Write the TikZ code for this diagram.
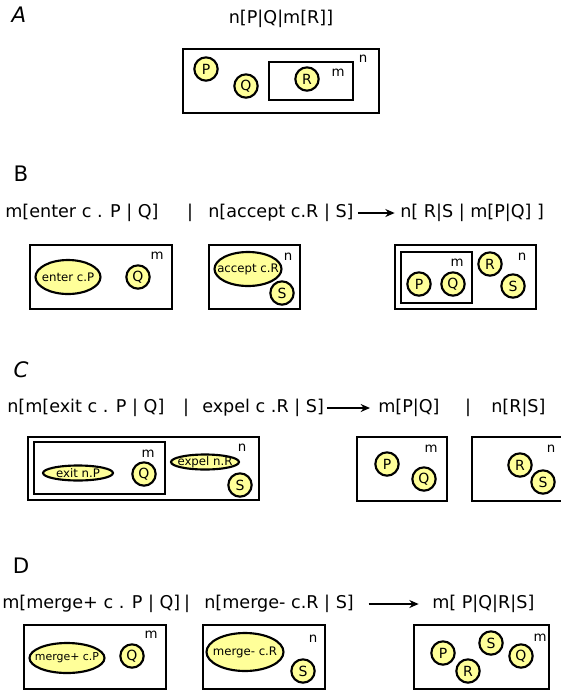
\documentclass[tikz,border=0pt]{standalone}
\usepackage{fontspec}
\setmainfont{DejaVu Sans}
\usetikzlibrary{shapes.geometric}
\usetikzlibrary{arrows.meta}
\definecolor{pale}{RGB}{255,255,153}
\tikzset{
  amb/.style={line width=1.8pt},
  agent/.style={circle, draw, fill=pale, line width=1.6pt, minimum size=17.5pt,
    inner sep=0pt, font=\fontsize{10.5}{11}\selectfont},
  act/.style 2 args={ellipse, draw, fill=pale, line width=1.6pt,
    minimum width=#1*0.75pt, minimum height=#2*0.75pt, inner sep=0pt},
  lbl/.style={font=\fontsize{8.8}{10}\selectfont, inner sep=0pt},
  tag/.style={font=\fontsize{10}{11}\selectfont, inner sep=0pt},
  term/.style={font=\fontsize{13.2}{15}\selectfont, inner sep=0pt},
  sect/.style={font=\fontsize{16}{18}\selectfont, inner sep=0pt},
  move/.style={line width=1.3pt, -{Stealth[length=7pt,width=6pt]}}
}

\begin{document}
\begin{tikzpicture}[x=0.75pt,y=-0.75pt]
    \clip (0,0) rectangle (561,694);
    % A
    \node[sect,font=\fontsize{16}{18}\selectfont\itshape] (lA) at (19,15) {A};
    \node[term] (tA) at (281,19) {n[P|Q|m[R]]};
    \draw[amb] (183,49) rectangle (379,113);
    \draw[amb] (269,62) rectangle (353,100);
    \node[tag] (nA) at (363,59) {n};
    \node[tag] (mA) at (338,73) {m};
    \node[agent] (pA) at (206,69) {P};
    \node[agent] (qA) at (246,86) {Q};
    \node[agent] (rA) at (307,79) {R};
    % B
    \node[sect] (lB) at (21,174) {B};
    \node[term,anchor=west] (fB1) at (5,213) {m[enter c . P | Q]};
    \node[term] (bB) at (190,213) {|};
    \node[term,anchor=west] (fB2) at (208,213) {n[accept c.R | S]};
    \node[term,anchor=west] (fB3) at (400,213) {n[ R|S | m[P|Q] ]};
    \draw[move,shorten <=3pt,shorten >=4pt] (fB2) -- (fB3);
    \draw[amb] (30,245) rectangle (172,309);
    \node[tag] (mB1) at (157,256) {m};
    \node[act={65}{34}] (eB1) at (68,277) {};
    \node[lbl] at (eB1) {enter c.P};
    \node[agent] (qB1) at (138,277) {Q};
    \draw[amb] (209,245) rectangle (300,309);
    \node[tag] (nB2) at (288,257) {n};
    \node[act={67}{34}] (eB2) at (248,269) {};
    \node[lbl] at (eB2) {accept c.R};
    \node[agent] (sB2) at (282,293) {S};
    \draw[amb] (395,245) rectangle (536,309);
    \draw[amb] (401,252) rectangle (472,303);
    \node[tag] (mB3) at (457,263) {m};
    \node[tag] (nB3) at (522,257) {n};
    \node[agent] (pB3) at (419,284) {P};
    \node[agent] (qB3) at (453,284) {Q};
    \node[agent] (rB3) at (490,264) {R};
    \node[agent] (sB3) at (513,286) {S};
    % C
    \node[sect,font=\fontsize{16}{18}\selectfont\itshape] (lC) at (21,370) {C};
    \node[term,anchor=west] (fC1) at (7,408) {n[m[exit c . P | Q]};
    \node[term] (bC1) at (186,408) {|};
    \node[term,anchor=west] (fC2) at (202,408) {expel c .R | S]};
    \node[term,anchor=west] (fC3) at (378,408) {m[P|Q]};
    \node[term] (bC2) at (468,408) {|};
    \node[term,anchor=west] (fC4) at (491,408) {n[R|S]};
    \draw[move,shorten <=2pt,shorten >=6pt] (fC2) -- (fC3);
    \draw[amb] (28,437) rectangle (259,500);
    \draw[amb] (34,442) rectangle (165,494);
    \node[tag] (mC1) at (148,454) {m};
    \node[act={70}{15}] (eC1) at (78,473) {};
    \node[lbl] at (eC1) {exit n.P};
    \node[agent] (qC1) at (144,474) {Q};
    \node[act={68}{15}] (eC2) at (205,462) {};
    \node[lbl] at (eC2) {expel n.R};
    \node[tag] (nC1) at (242,448) {n};
    \node[agent] (sC1) at (240,485) {S};
    \draw[amb] (357,437) rectangle (447,501);
    \node[tag] (mC2) at (431,449) {m};
    \node[agent] (pC2) at (387,464) {P};
    \node[agent] (qC2) at (424,479) {Q};
    \draw[amb] (472,437) rectangle (590,501);
    \node[tag] (nC2) at (551,449) {n};
    \node[agent] (rC2) at (520,465) {R};
    \node[agent] (sC2) at (543,482) {S};
    % D
    \node[sect] (lD) at (21,566) {D};
    \node[term,anchor=west] (fD1) at (2,604) {m[merge+ c . P | Q]};
    \node[term] (bD) at (187,604) {|};
    \node[term,anchor=west] (fD2) at (204,604) {n[merge- c.R | S]};
    \node[term,anchor=west] (fD3) at (432,604) {m[ P|Q|R|S]};
    \draw[move,shorten <=11pt,shorten >=10pt] (fD2) -- (fD3);
    \draw[amb] (24,625) rectangle (166,689);
    \node[tag] (mD1) at (151,635) {m};
    \node[act={75}{30}] (eD1) at (67,658) {};
    \node[lbl,font=\fontsize{8.2}{9}\selectfont] at (eD1) {merge+ c.P};
    \node[agent] (qD1) at (132,656) {Q};
    \draw[amb] (203,625) rectangle (325,689);
    \node[tag] (nD2) at (313,639) {n};
    \node[act={77}{38}] (eD2) at (245,652) {};
    \node[lbl] at (eD2) {merge- c.R};
    \node[agent] (sD2) at (303,671) {S};
    \draw[amb] (414,625) rectangle (549,689);
    \node[tag] (mD3) at (540,638) {m};
    \node[agent] (pD3) at (443,653) {P};
    \node[agent] (rD3) at (468,671) {R};
    \node[agent] (sD3) at (491,643) {S};
    \node[agent] (qD3) at (521,656) {Q};
\end{tikzpicture}
\end{document}
